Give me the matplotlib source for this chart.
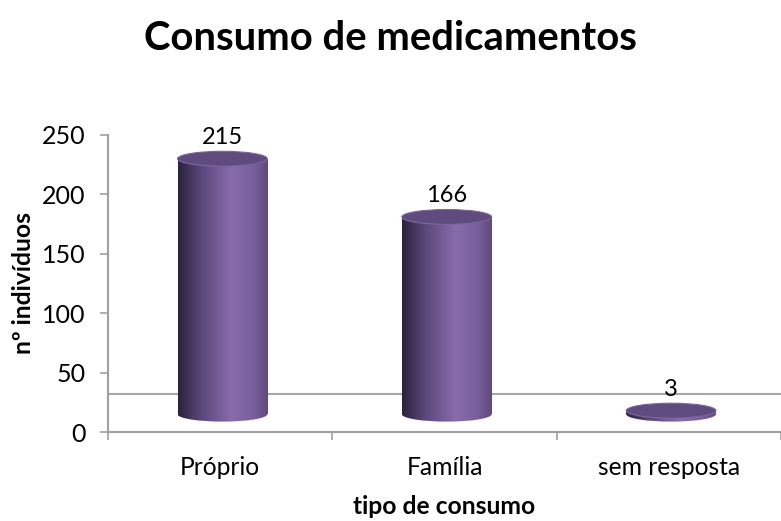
import numpy as np
import matplotlib
matplotlib.use("Agg")
import matplotlib.pyplot as plt
from matplotlib.patches import Ellipse, Rectangle

plt.rcParams['font.family'] = ['Lato', 'DejaVu Sans']

categories = ['Próprio', 'Família', 'sem resposta']
values = [215, 166, 3]
title = 'Consumo de medicamentos'
ylabel = 'nº indivíduos'
xlabel = 'tipo de consumo'

# fake 3d look: bars stand on a floor a bit above zero
floor = 15
back_line = 32
bar_w = 0.40
cap_h = 12.5

fig = plt.figure(figsize=(7.81, 5.21), dpi=100)
ax = fig.add_axes([0.1383, 0.1708, 0.8617, 0.5702])

ax.set_xlim(-0.5, 2.5)
ax.set_ylim(0, 250)

# horizontal colour profile of the cylinder body
prof = np.array([0.0, 0.25, 0.6, 0.85, 1.0])
cols = np.array([[0x2c, 0x22, 0x3c],
                 [0x5a, 0x47, 0x7a],
                 [0x88, 0x6c, 0xac],
                 [0x78, 0x5e, 0x9c],
                 [0x5e, 0x4a, 0x7e]]) / 255.0
xs = np.linspace(0, 1, 200)
grad = np.stack([np.interp(xs, prof, cols[:, k]) for k in range(3)], axis=-1)
grad = grad[np.newaxis, :, :]

ax.axhline(back_line, color='#a6a6a6', lw=1.5, zorder=1)

for i, v in enumerate(values):
    x0 = i - bar_w / 2 + 0.01
    top = floor + v
    rect = Rectangle((x0, floor), bar_w, v, transform=ax.transData)
    im = ax.imshow(grad, extent=(x0, x0 + bar_w, floor, top), aspect='auto', zorder=3)
    im.set_clip_path(rect)
    bot = Ellipse((x0 + bar_w / 2, floor), bar_w, cap_h, transform=ax.transData)
    im2 = ax.imshow(grad, extent=(x0, x0 + bar_w, floor - cap_h, floor + cap_h),
                    aspect='auto', zorder=3)
    im2.set_clip_path(bot)
    ax.add_patch(Ellipse((x0 + bar_w / 2, top), bar_w, cap_h, facecolor='#5f4b7e',
                         edgecolor='#7d66a0', lw=0.8, zorder=4))
    ax.text(x0 + bar_w / 2, top + 9, str(v), ha='center', va='bottom',
            fontsize=17, zorder=5)

ax.set_ylim(0, 250)
ax.set_xlim(-0.5, 2.5)

for s in ['top', 'right']:
    ax.spines[s].set_visible(False)
for s in ['left', 'bottom']:
    ax.spines[s].set_color('#a0a0a0')
    ax.spines[s].set_linewidth(1.5)

ax.set_yticks(range(0, 251, 50))
ax.tick_params(axis='y', direction='out', length=6, width=1.2, color='#a0a0a0',
               labelsize=18, pad=10)
ax.set_xticks([-0.5, 0.5, 1.5, 2.5])
ax.set_xticklabels([])
ax.tick_params(axis='x', which='major', direction='out', length=6, width=1.2,
               color='#a0a0a0')
ax.set_xticks(range(len(categories)), minor=True)
ax.set_xticklabels(categories, minor=True)
ax.tick_params(axis='x', which='minor', length=0, labelsize=17.7, pad=17)

ax.set_ylabel(ylabel, fontsize=17.7, fontweight='bold', labelpad=5)
ax.set_xlabel(xlabel, fontsize=17.7, fontweight='bold', labelpad=12)
fig.text(0.5, 0.927, title, ha='center', va='center', fontsize=28.8, fontweight='bold')

fig.savefig('out.png', dpi=100)
